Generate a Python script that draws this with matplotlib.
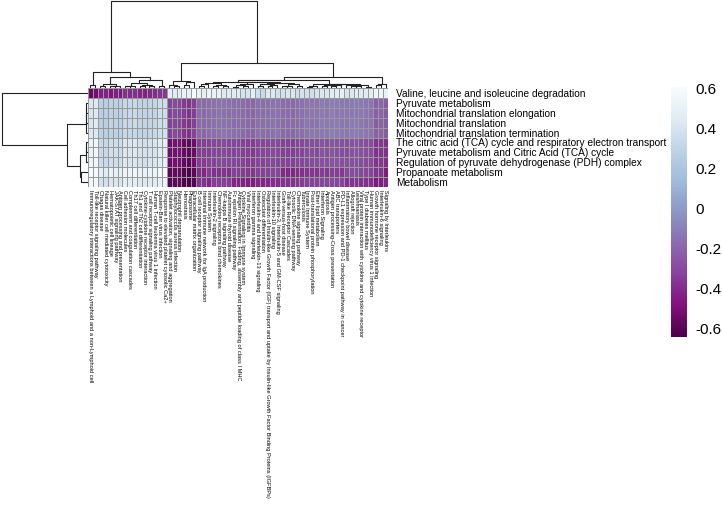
import numpy as np
import matplotlib.pyplot as plt

plt.rcParams['font.family'] = ['Liberation Sans', 'DejaVu Sans']

row_labels = [
    "Valine, leucine and isoleucine degradation",
    "Pyruvate metabolism",
    "Mitochondrial translation termination",
    "Mitochondrial translation",
    "Mitochondrial translation elongation",
    "The citric acid (TCA) cycle and respiratory electron transport",
    "Regulation of pyruvate dehydrogenase (PDH) complex",
    "Pyruvate metabolism and Citric Acid (TCA) cycle",
    "Propanoate metabolism",
    "Metabolism",
]

col_labels = [
    "Immunoregulatory interactions between a Lymphoid and a non-Lymphoid cell",
    "Toll-like receptor signaling pathway",
    "Chagas disease",
    "Hematopoietic cell lineage",
    "Natural killer cell mediated cytotoxicity",
    "Cell adhesion molecules",
    "Th1 and Th2 cell differentiation",
    "Antigen processing and presentation",
    "Th17 cell differentiation",
    "T cell receptor signaling pathway",
    "JAK-STAT signaling pathway",
    "Human T-cell leukemia virus 1 infection",
    "Epstein-Barr virus infection",
    "Cytokine-cytokine receptor interaction",
    "Complement and coagulation cascades",
    "Response to elevated platelet cytosolic Ca2+",
    "Platelet activation, signaling and aggregation",
    "Hemostasis",
    "Staphylococcus aureus infection",
    "Phagosome",
    "Extracellular matrix organization",
    "Neutrophil degranulation",
    "B cell receptor signaling pathway",
    "Growth hormone receptor signaling",
    "Interleukin-2 signaling",
    "Interleukin-6 signaling",
    "Signaling by Interleukins",
    "Immune System",
    "Innate Immune System",
    "Fc epsilon RI signaling pathway",
    "Interferon Signaling",
    "Interleukin-4 and Interleukin-13 signaling",
    "Intestinal immune network for IgA production",
    "Inflammatory bowel disease",
    "NF-kappa B signaling pathway",
    "Cytokine Signaling in Immune system",
    "Antigen processing-Cross presentation",
    "Regulation of Insulin-like Growth Factor (IGF) transport and uptake by Insulin-like Growth Factor Binding Proteins (IGFBPs)",
    "Post-translational protein phosphorylation",
    "Interferon gamma signaling",
    "Apoptosis",
    "Antigen Presentation: Folding, assembly and peptide loading of class I MHC",
    "Chemokine receptors bind chemokines",
    "Allograft rejection",
    "Graft-versus-host disease",
    "Type I diabetes mellitus",
    "Autoimmune thyroid disease",
    "Viral myocarditis",
    "PD-L1 expression and PD-1 checkpoint pathway in cancer",
    "Interleukin-10 signaling",
    "Chemokine signaling pathway",
    "Leishmaniasis",
    "Toll-like Receptor Cascades",
    "Human immunodeficiency virus 1 infection",
    "Tuberculosis",
    "Viral protein interaction with cytokine and cytokine receptor",
    "Cytosolic DNA-sensing pathway",
    "Interleukin-3, Interleukin-5 and GM-CSF signaling",
    "ABC transporters",
    "Osteoclast differentiation",
    "Ether lipid metabolism",
]

valine = [-0.55, -0.52, -0.44, -0.47, -0.43, -0.38, -0.42, -0.45, -0.39, -0.41, -0.44, -0.40, -0.37, -0.43, -0.40, -0.36,
          0.48, 0.52, 0.45, 0.50, 0.61, 0.47,
          0.52, 0.55, 0.50, 0.54, 0.51, 0.53, 0.38, 0.45, 0.42, 0.36, 0.48, 0.40, 0.44, 0.39, 0.46, 0.43,
          0.37, 0.47, 0.41, 0.45, 0.50, 0.42, 0.38, 0.46, 0.44, 0.40, 0.48, 0.43, 0.36, 0.45, 0.41, 0.47,
          0.39, 0.44, 0.42, 0.38, 0.46, 0.34, 0.40]
pyruvate = [0.42, 0.44, 0.27, 0.29, 0.26, 0.33, 0.30, 0.28, 0.34, 0.31, 0.29, 0.32, 0.36, 0.30, 0.33, 0.37,
            -0.33, -0.36, -0.30, -0.38, -0.34, -0.31,
            -0.18, -0.22, -0.16, -0.20, -0.23, -0.17, -0.14, -0.17, -0.12, -0.16, -0.19, -0.13, -0.15, -0.18,
            -0.11, -0.16, -0.14, -0.20, -0.13, -0.17, -0.15, -0.12, -0.18, -0.14, -0.16, -0.19, -0.13, -0.15,
            -0.17, -0.12, -0.18, -0.14, -0.16, -0.13, -0.19, -0.15, -0.12, -0.17, -0.14]
mito_term = [0.43, 0.43, 0.28, 0.29, 0.27, 0.34, 0.30, 0.29, 0.33, 0.31, 0.29, 0.33, 0.37, 0.30, 0.32, 0.38,
             -0.34, -0.37, -0.30, -0.39, -0.33, -0.32,
             -0.19, -0.22, -0.17, -0.20, -0.24, -0.17, -0.15, -0.17, -0.13, -0.16, -0.20, -0.13, -0.15, -0.19,
             -0.11, -0.17, -0.14, -0.21, -0.13, -0.17, -0.16, -0.12, -0.19, -0.14, -0.16, -0.20, -0.13, -0.16,
             -0.17, -0.12, -0.19, -0.14, -0.17, -0.13, -0.20, -0.15, -0.12, -0.18, -0.14]
mito_trans = [0.42, 0.45, 0.27, 0.30, 0.26, 0.33, 0.31, 0.28, 0.35, 0.31, 0.30, 0.32, 0.36, 0.31, 0.33, 0.37,
              -0.33, -0.36, -0.31, -0.38, -0.34, -0.31,
              -0.18, -0.23, -0.16, -0.21, -0.23, -0.18, -0.14, -0.18, -0.12, -0.16, -0.19, -0.14, -0.15, -0.18,
              -0.12, -0.16, -0.15, -0.20, -0.13, -0.18, -0.15, -0.12, -0.18, -0.15, -0.16, -0.19, -0.14, -0.15,
              -0.18, -0.12, -0.18, -0.14, -0.16, -0.14, -0.19, -0.16, -0.12, -0.17, -0.15]
mito_elong = [0.41, 0.44, 0.26, 0.29, 0.26, 0.32, 0.30, 0.28, 0.34, 0.30, 0.29, 0.31, 0.36, 0.30, 0.33, 0.36,
              -0.33, -0.35, -0.30, -0.38, -0.35, -0.31,
              -0.18, -0.22, -0.17, -0.20, -0.23, -0.17, -0.14, -0.17, -0.12, -0.17, -0.19, -0.13, -0.16, -0.18,
              -0.11, -0.16, -0.14, -0.20, -0.14, -0.17, -0.15, -0.13, -0.18, -0.14, -0.17, -0.19, -0.13, -0.15,
              -0.17, -0.13, -0.18, -0.15, -0.16, -0.13, -0.19, -0.15, -0.13, -0.17, -0.14]
tca_etc = [0.52, 0.55, 0.34, 0.37, 0.33, 0.42, 0.39, 0.36, 0.43, 0.40, 0.37, 0.41, 0.45, 0.38, 0.42, 0.47,
           -0.52, -0.56, -0.50, -0.58, -0.53, -0.49,
           -0.34, -0.38, -0.32, -0.36, -0.39, -0.33, -0.29, -0.32, -0.27, -0.31, -0.34, -0.28, -0.30, -0.33,
           -0.26, -0.31, -0.29, -0.35, -0.28, -0.32, -0.30, -0.27, -0.33, -0.29, -0.31, -0.34, -0.28, -0.30,
           -0.32, -0.27, -0.33, -0.29, -0.31, -0.28, -0.34, -0.30, -0.27, -0.32, -0.29]
pdh = [0.53, 0.55, 0.35, 0.37, 0.34, 0.43, 0.39, 0.37, 0.43, 0.41, 0.37, 0.41, 0.46, 0.38, 0.41, 0.48,
       -0.53, -0.57, -0.50, -0.59, -0.52, -0.50,
       -0.35, -0.38, -0.33, -0.36, -0.40, -0.33, -0.30, -0.32, -0.28, -0.31, -0.35, -0.28, -0.31, -0.33,
       -0.27, -0.31, -0.30, -0.35, -0.28, -0.33, -0.30, -0.28, -0.33, -0.30, -0.31, -0.35, -0.28, -0.31,
       -0.32, -0.28, -0.33, -0.30, -0.31, -0.29, -0.34, -0.31, -0.27, -0.33, -0.29]
pyr_tca = [0.52, 0.56, 0.34, 0.38, 0.33, 0.42, 0.40, 0.36, 0.44, 0.40, 0.38, 0.40, 0.45, 0.39, 0.42, 0.46,
           -0.52, -0.55, -0.51, -0.58, -0.54, -0.49,
           -0.34, -0.39, -0.32, -0.37, -0.39, -0.34, -0.29, -0.33, -0.27, -0.32, -0.34, -0.29, -0.30, -0.34,
           -0.26, -0.31, -0.29, -0.36, -0.28, -0.32, -0.31, -0.27, -0.34, -0.29, -0.32, -0.34, -0.29, -0.30,
           -0.33, -0.27, -0.34, -0.29, -0.32, -0.28, -0.35, -0.30, -0.28, -0.32, -0.30]
propanoate = [0.60, 0.59, 0.47, 0.50, 0.45, 0.54, 0.51, 0.48, 0.55, 0.52, 0.49, 0.53, 0.57, 0.50, 0.54, 0.59,
              -0.58, -0.62, -0.56, -0.63, -0.59, -0.55,
              -0.40, -0.38, -0.39, -0.37, -0.45, -0.35, -0.37, -0.34, -0.35, -0.33, -0.42, -0.30, -0.38, -0.35,
              -0.34, -0.33, -0.37, -0.37, -0.36, -0.34, -0.38, -0.29, -0.41, -0.31, -0.39, -0.36, -0.36, -0.32,
              -0.40, -0.29, -0.41, -0.31, -0.39, -0.30, -0.42, -0.32, -0.35, -0.34, -0.37]
metabolism = [0.57, 0.59, 0.39, 0.42, 0.38, 0.47, 0.44, 0.41, 0.48, 0.45, 0.42, 0.46, 0.50, 0.43, 0.47, 0.52,
              -0.60, -0.63, -0.58, -0.64, -0.61, -0.57,
              -0.37, -0.46, -0.35, -0.44, -0.42, -0.41, -0.33, -0.42, -0.31, -0.41, -0.38, -0.38, -0.34, -0.43,
              -0.30, -0.41, -0.33, -0.45, -0.32, -0.42, -0.34, -0.37, -0.37, -0.39, -0.35, -0.44, -0.32, -0.40,
              -0.36, -0.37, -0.37, -0.39, -0.35, -0.38, -0.38, -0.40, -0.31, -0.42, -0.33]

values = np.array([valine, pyruvate, mito_term, mito_trans, mito_elong,
                   tca_etc, pdh, pyr_tca, propanoate, metabolism])


def complete_linkage(X):
    # plain complete-linkage on euclidean distance, returns leaf order + U-shaped segments
    n = len(X)
    D = np.sqrt(((X[:, None, :] - X[None, :, :]) ** 2).sum(-1))
    members = {i: [i] for i in range(n)}
    height = {i: 0.0 for i in range(n)}
    kids = {}
    active = list(range(n))
    nid = n
    while len(active) > 1:
        best = None
        for a in range(len(active)):
            for b in range(a + 1, len(active)):
                ca, cb = active[a], active[b]
                d = D[np.ix_(members[ca], members[cb])].max()
                if best is None or d < best[0]:
                    best = (d, ca, cb)
        d, ca, cb = best
        if min(members[ca]) > min(members[cb]):
            ca, cb = cb, ca
        members[nid] = members[ca] + members[cb]
        height[nid] = d
        kids[nid] = (ca, cb)
        active.remove(ca)
        active.remove(cb)
        active.append(nid)
        nid += 1
    root = active[0]
    order = members[root]
    pos = {leaf: i + 0.5 for i, leaf in enumerate(order)}
    segs = []
    for node in sorted(kids):
        a, b = kids[node]
        pos[node] = (pos[a] + pos[b]) / 2
        h = height[node]
        segs.append(([pos[a], pos[a], pos[b], pos[b]], [height[a], h, h, height[b]]))
    return order, segs, height[root]


row_order, row_segs, row_top = complete_linkage(values)
col_order, col_segs, col_top = complete_linkage(values.T)
data = values[row_order][:, col_order]
nrow, ncol = data.shape

W, H = 722, 508
fig = plt.figure(figsize=(W / 100, H / 100), dpi=100)

hx0, hx1, hy0, hy1 = 88, 388, 88, 187
ax = fig.add_axes([hx0 / W, 1 - hy1 / H, (hx1 - hx0) / W, (hy1 - hy0) / H])
mesh = ax.pcolormesh(data, cmap='BuPu_r', vmin=values.min(), vmax=values.max(),
                     edgecolors='#999999', linewidth=0.7)
ax.set_xlim(0, ncol)
ax.set_ylim(nrow, 0)
for s in ax.spines.values():
    s.set_visible(False)
ax.set_xticks(np.arange(ncol) + 0.5)
ax.set_xticklabels([col_labels[i] for i in col_order], rotation=270,
                   ha='center', va='top', fontsize=4.1)
ax.set_yticks(np.arange(nrow) + 0.5)
ax.set_yticklabels([row_labels[i] for i in row_order], fontsize=7.3)
ax.yaxis.tick_right()
ax.tick_params(axis='x', length=0, pad=2)
ax.tick_params(axis='y', length=0, pad=6)

# column dendrogram
axc = fig.add_axes([hx0 / W, 1 - 87 / H, (hx1 - hx0) / W, 86 / H])
for xs, ys in col_segs:
    axc.plot(xs, ys, color='#222222', lw=0.8, clip_on=False)
axc.set_xlim(0, ncol)
axc.set_ylim(0, col_top)
axc.axis('off')

# row dendrogram
axr = fig.add_axes([2 / W, 1 - hy1 / H, 85 / W, (hy1 - hy0) / H])
for ys, xs in row_segs:
    axr.plot(xs, ys, color='#222222', lw=0.8, clip_on=False)
axr.set_xlim(row_top, 0)
axr.set_ylim(nrow, 0)
axr.axis('off')

# colour key
cax = fig.add_axes([671 / W, 1 - 337 / H, 16 / W, 250 / H])
cb = fig.colorbar(mesh, cax=cax)
ticks = [-0.6, -0.4, -0.2, 0, 0.2, 0.4, 0.6]
cb.set_ticks(ticks)
cb.set_ticklabels(["-0.6", "-0.4", "-0.2", "0", "0.2", "0.4", "0.6"])
cb.outline.set_visible(False)
cax.tick_params(length=0, labelsize=11, pad=6)

fig.savefig("out.png", dpi=100)
